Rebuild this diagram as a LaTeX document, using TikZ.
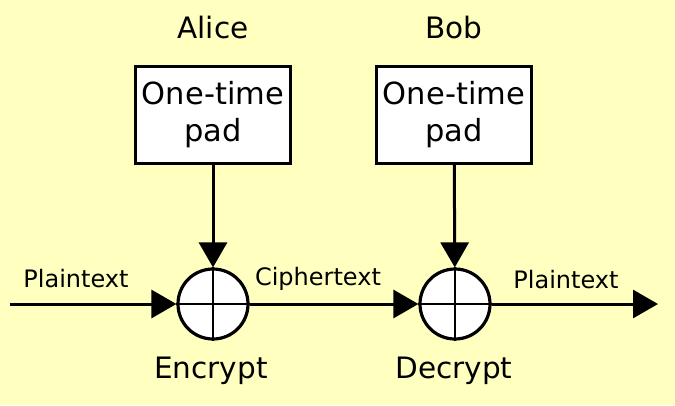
\documentclass[tikz,border=0pt]{standalone}
\usepackage{fontspec}
\setmainfont{DejaVu Sans}
\usetikzlibrary{arrows.meta}
\definecolor{bg}{HTML}{FFFFC0}
\definecolor{ink}{HTML}{000000}
\begin{document}
\begin{tikzpicture}[x=1pt,y=-1pt,
  xorc/.style={circle,draw=ink,line width=3.2pt,fill=white,minimum size=70pt,inner sep=0pt},
  padbox/.style={draw=ink,line width=3pt,fill=white,minimum width=155pt,minimum height=97pt,align=center,inner sep=0pt,text=ink,font=\fontsize{30.5}{37}\selectfont},
  big/.style={anchor=base,text=ink,font=\fontsize{29.5}{34}\selectfont},
  small/.style={anchor=base,text=ink,font=\fontsize{24}{28}\selectfont},
  arr/.style={draw=ink,line width=3pt,-{Triangle[length=25pt,width=28pt]}}]
\fill[bg] (0,0) rectangle (675,405);
\useasboundingbox (0,0) rectangle (675,405);
\node[padbox] (pa) at (213,115) {One-time\\pad};
\node[padbox] (pb) at (454,115) {One-time\\pad};
\node[xorc] (e) at (213,304) {};
\node[xorc] (d) at (455,304) {};
\draw[ink,line width=2.5pt] (e.north) -- (e.south) (e.west) -- (e.east);
\draw[ink,line width=2.5pt] (d.north) -- (d.south) (d.west) -- (d.east);
\coordinate (s) at (10,304);
\coordinate (t) at (658,304);
\draw[arr] (s) -- (e);
\draw[arr] (e) -- (d);
\draw[arr] (d) -- (t);
\draw[arr] (pa) -- (e);
\draw[arr] (pb) -- (d);
\node[big] (alice) at (213,38) {Alice};
\node[big] (bob) at (454,38) {Bob};
\node[big] (enc) at (211,378) {Encrypt};
\node[big] (dec) at (454,378) {Decrypt};
\node[small] (p1) at (76,287) {Plaintext};
\node[small] (c1) at (318,285) {Ciphertext};
\node[small] (p2) at (566,288) {Plaintext};
\end{tikzpicture}
\end{document}
